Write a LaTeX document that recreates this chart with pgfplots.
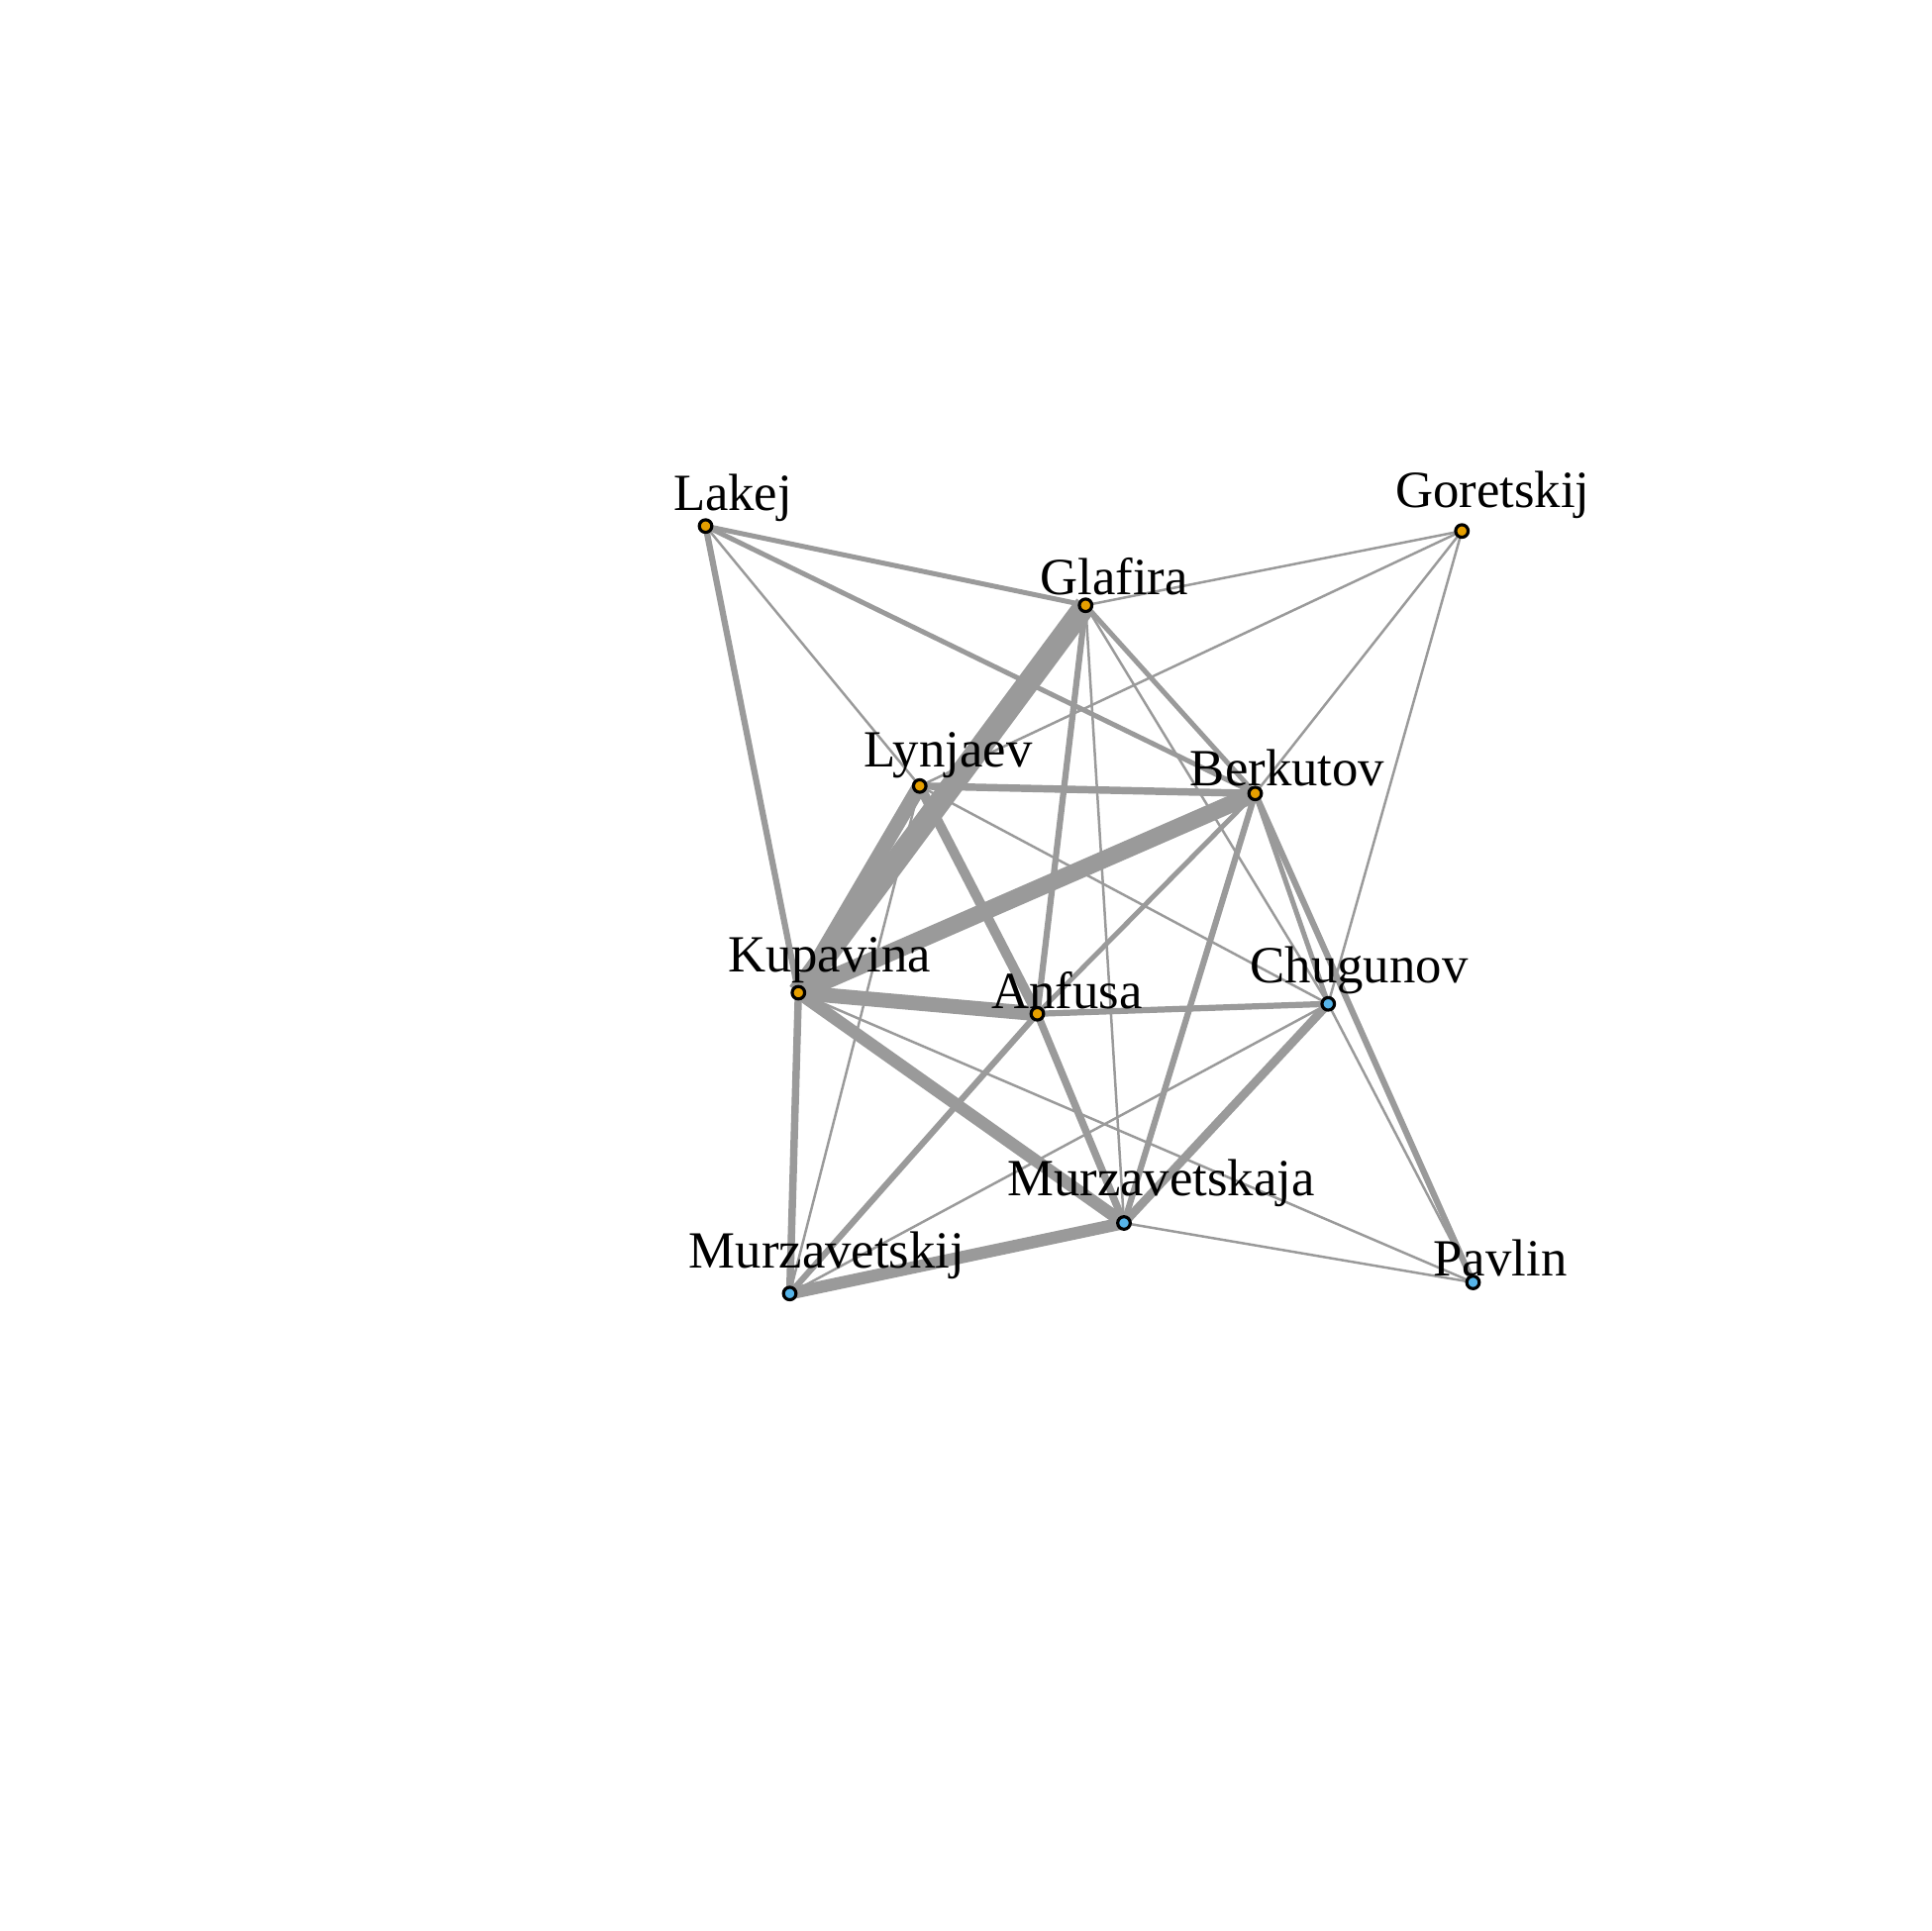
\documentclass[border=0pt]{standalone}
\usepackage{pgfplots}
\pgfplotsset{compat=1.18}
\usepackage{fontspec}
\setmainfont{Liberation Serif}
\definecolor{edg}{HTML}{9A9A9A}
\definecolor{nor}{HTML}{E69F00}
\definecolor{nbl}{HTML}{56B4E9}
\begin{document}
\begin{tikzpicture}
\def\La{(570,425)}\def\Go{(1181,429)}\def\Gl{(877,489)}\def\Ly{(743,635)}
\def\Be{(1014,641)}\def\Ku{(645,802)}\def\An{(838,819)}\def\Ch{(1073,811)}
\def\Ma{(908,988)}\def\Mi{(638,1045)}\def\Pa{(1190,1036)}
\newcommand{\E}[3]{\addplot[edg,line width=#3*0.236pt] coordinates {#1 #2};}
\begin{axis}[width=13cm,height=13cm,scale only axis,hide axis,
  xmin=0,xmax=1560,ymin=0,ymax=1560,y dir=reverse,clip=false]
\path (axis cs:0,0) rectangle (axis cs:1560,1560);
\E{\La}{\Gl}{4}\E{\La}{\Be}{4}\E{\La}{\Ku}{5}\E{\La}{\Ly}{2}
\E{\Go}{\Gl}{2}\E{\Go}{\Ly}{2}\E{\Go}{\Be}{2}\E{\Go}{\Ch}{2}
\E{\Gl}{\Ku}{18}\E{\Gl}{\An}{5}\E{\Gl}{\Be}{4}\E{\Gl}{\Ma}{2}\E{\Gl}{\Ch}{2}
\E{\Ly}{\Be}{6}\E{\Ly}{\Ku}{12}\E{\Ly}{\An}{8}\E{\Ly}{\Ch}{2}\E{\Ly}{\Mi}{2}
\E{\Be}{\Ku}{14}\E{\Be}{\An}{4}\E{\Be}{\Ma}{5}\E{\Be}{\Ch}{4}\E{\Be}{\Pa}{5}
\E{\Ku}{\An}{12}\E{\Ku}{\Ma}{10}\E{\Ku}{\Mi}{6}\E{\Ku}{\Pa}{2}
\E{\An}{\Ch}{5}\E{\An}{\Mi}{5}\E{\An}{\Ma}{6}
\E{\Ch}{\Ma}{7}\E{\Ch}{\Mi}{2}\E{\Ch}{\Pa}{2}
\E{\Ma}{\Mi}{10}\E{\Ma}{\Pa}{2}
\addplot[only marks,mark=*,mark size=1.2pt,draw=black,line width=0.6pt,fill=nor]
  coordinates {\La\Go\Gl\Ly\Be\Ku\An};
\addplot[only marks,mark=*,mark size=1.2pt,draw=black,line width=0.6pt,fill=nbl]
  coordinates {\Ch\Ma\Mi\Pa};
\begin{scope}[every node/.style={font=\fontsize{10}{12}\selectfont,inner sep=0pt}]
\node at (axis cs:592,402) {Lakej};
\node at (axis cs:1206,400) {Goretskij};
\node at (axis cs:900,466) {Glafira};
\node at (axis cs:766,610) {Lynjaev};
\node at (axis cs:1040,620) {Berkutov};
\node at (axis cs:670,776) {Kupavina};
\node at (axis cs:862,800) {Anfusa};
\node at (axis cs:1098,784) {Chugunov};
\node at (axis cs:938,956) {Murzavetskaja};
\node at (axis cs:668,1014) {Murzavetskij};
\node at (axis cs:1212,1016) {Pavlin};
\end{scope}
\end{axis}
\end{tikzpicture}
\end{document}
